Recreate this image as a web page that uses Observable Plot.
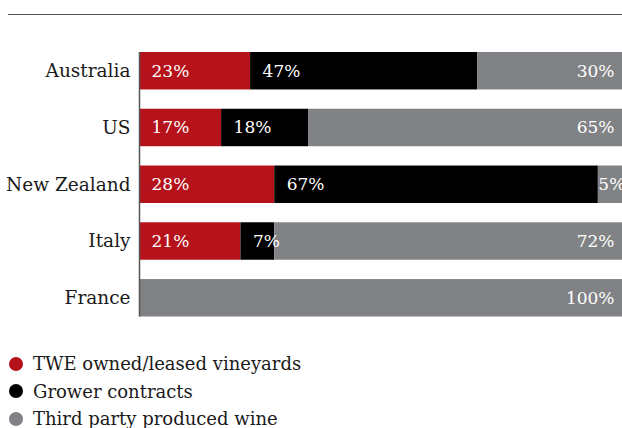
<!DOCTYPE html>
<html>
<head>
<meta charset="utf-8">
<script src="https://cdn.jsdelivr.net/npm/d3@7"></script>
<script src="https://cdn.jsdelivr.net/npm/@observablehq/plot@0.6"></script>
<style>
  html, body { margin: 0; padding: 0; background: #fff; }
  body { width: 622px; height: 428px; position: relative; overflow: hidden; font-family: "DejaVu Serif", serif; }
  #rule { position: absolute; left: 8px; right: 0; top: 14px; border-top: 1.5px solid #555; }
  #chart { position: absolute; left: 0; top: 0; }
  #legend { position: absolute; left: 9px; top: 350px; font-size: 18px; color: #1a1a1a; }
  .item { height: 27.5px; display: flex; align-items: center; white-space: nowrap; }
  .dot { width: 14px; height: 14px; border-radius: 50%; margin-right: 10px; flex: none; }
</style>
</head>
<body>
<div id="rule"></div>
<div id="chart"></div>
<div id="legend"></div>
<script>
const countries = ["Australia", "US", "New Zealand", "Italy", "France"];
const owned  = [23, 17, 28, 21, 0];
const grower = [47, 18, 67, 7, 0];
const third  = [30, 65, 5, 72, 100];
const seriesKeys = ["owned", "grower", "third"];
const seriesNames = ["TWE owned/leased vineyards", "Grower contracts", "Third party produced wine"];
const seriesColors = ["#b5121b", "#000000", "#818285"];

const values = {owned, grower, third};
const data = [];
countries.forEach((c, i) => {
  seriesKeys.forEach(s => data.push({country: c, series: s, value: values[s][i]}));
});

const stackOpts = {x: "value", y: "country", z: "series", order: seriesKeys};
const fontFamily = "DejaVu Serif, serif";
const pct = d => d.value + "%";

const plot = Plot.plot({
  width: 622,
  height: 330,
  marginLeft: 139,
  marginRight: 0,
  marginTop: 52,
  marginBottom: 13.5,
  style: {fontFamily, fontSize: "17px", background: "transparent"},
  x: {domain: [0, 100], axis: null},
  y: {domain: countries, paddingInner: 0.34, paddingOuter: 0, round: false, label: null, tickSize: 0, tickPadding: 9},
  color: {domain: seriesKeys, range: seriesColors},
  marks: [
    Plot.barX(data, Plot.stackX({...stackOpts, fill: "series"})),
    Plot.text(data, Plot.stackX1({...stackOpts,
      text: d => (d.value > 0 && d.series !== "third") ? pct(d) : null,
      textAnchor: "start", dx: 12, fill: "white", fontSize: 17})),
    Plot.text(data, Plot.stackX2({...stackOpts,
      text: d => (d.value >= 10 && d.series === "third") ? pct(d) : null,
      textAnchor: "end", dx: -8, fill: "white", fontSize: 17})),
    Plot.text(data, Plot.stackX1({...stackOpts,
      text: d => (d.value > 0 && d.value < 10 && d.series === "third") ? pct(d) : null,
      textAnchor: "start", dx: 0, fill: "white", fontSize: 17})),
    Plot.ruleX([0], {stroke: "#555", strokeWidth: 1.5}),
    Plot.axisY({tickSize: 0, tickPadding: 9, fontSize: 18.5, fill: "#1a1a1a", label: null})
  ]
});
document.getElementById("chart").appendChild(plot);

const legend = document.getElementById("legend");
seriesNames.forEach((n, i) => {
  const row = document.createElement("div");
  row.className = "item";
  const dot = document.createElement("span");
  dot.className = "dot";
  dot.style.background = seriesColors[i];
  const label = document.createElement("span");
  label.textContent = n;
  row.appendChild(dot);
  row.appendChild(label);
  legend.appendChild(row);
});
</script>
</body>
</html>
